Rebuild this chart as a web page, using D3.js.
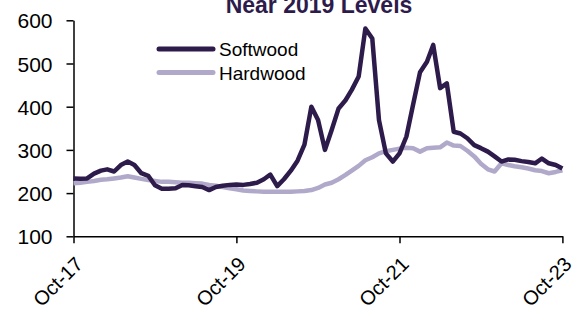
<!DOCTYPE html>
<html>
<head>
<meta charset="utf-8">
<script src="https://cdn.jsdelivr.net/npm/d3@7"></script>
<style>
  body { margin: 0; background: #fff; }
  svg { font-family: Arial, "Liberation Sans", sans-serif; display: block; }
  .axis path, .axis line { stroke: #000; stroke-width: 1.5; }
  .axis text { fill: #000; font-size: 21px; }
</style>
</head>
<body>
<svg width="579" height="316"></svg>
<script>
// monthly, Oct-17 .. Oct-23
var startMonth = new Date(2017, 9, 1);
var tickLabels = ["Oct-17", "Oct-19", "Oct-21", "Oct-23"];
var yTicks = [100, 200, 300, 400, 500, 600];

var softwood = [234, 233, 234, 245, 252, 255, 250, 265, 273, 265, 246, 240, 218, 210, 210, 211,
  219, 218, 216, 214, 207, 214, 217, 219, 220, 219, 221, 224, 232, 243, 216, 232, 252, 275,
  312, 400, 369, 300, 346, 396, 415, 439, 470, 581, 558, 369, 292, 273, 292, 331, 405, 480,
  504, 543, 443, 454, 342, 338, 327, 311, 304, 296, 285, 273, 278, 277, 274, 272, 269, 280,
  269, 265, 257];

var hardwood = [223, 224, 226, 228, 231, 232, 234, 236, 239, 236, 233, 230, 228, 226, 226, 225,
  224, 224, 223, 222, 219, 217, 214, 211, 209, 206, 205, 204, 203, 203, 203, 203, 203, 204,
  205, 207, 212, 220, 224, 232, 242, 252, 263, 276, 283, 292, 297, 300, 303, 305, 304, 296,
  304, 305, 306, 317, 310, 309, 298, 285, 268, 255, 250, 269, 265, 262, 260, 257, 253, 251,
  246, 249, 253];

var series = [
  { name: "Softwood", values: softwood, color: "#2d1b4b" },
  { name: "Hardwood", values: hardwood, color: "#b1a9ca" }
];

var svg = d3.select("svg");

var x = d3.scaleTime()
    .domain([startMonth, d3.timeMonth.offset(startMonth, 72)])
    .range([73.5, 562.4]);

var y = d3.scaleLinear()
    .domain([100, 600])
    .range([236.3, 20.3]);

// y axis
svg.append("g")
    .attr("class", "axis")
    .attr("transform", "translate(73.5,0)")
    .call(d3.axisLeft(y).tickValues(yTicks).tickSize(7).tickPadding(14).tickSizeOuter(0))
    .selectAll("text").attr("dy", "0.36em");

// x axis
var tickDates = tickLabels.map(function(d, i) { return d3.timeMonth.offset(startMonth, i * 24); });
var xAxis = svg.append("g")
    .attr("class", "axis")
    .attr("transform", "translate(0,236.3)")
    .call(d3.axisBottom(x).tickValues(tickDates).tickSize(7).tickSizeOuter(0)
      .tickFormat(function(d, i) { return tickLabels[i]; }));

xAxis.selectAll("text")
    .attr("text-anchor", "end")
    .attr("dy", null)
    .attr("y", null)
    .style("font-size", "20px")
    .attr("transform", "translate(10,29) rotate(-45)");

var line = d3.line()
    .x(function(d, i) { return x(d3.timeMonth.offset(startMonth, i)); })
    .y(function(d) { return y(d); });

// hardwood underneath, softwood on top
series.slice().reverse().forEach(function(s) {
  svg.append("path")
      .datum(s.values)
      .attr("fill", "none")
      .attr("stroke", s.color)
      .attr("stroke-width", 4.5)
      .attr("stroke-linejoin", "round")
      .attr("d", line);
});

// legend
var legend = svg.selectAll(".legend")
    .data(series)
    .enter().append("g")
    .attr("class", "legend")
    .attr("transform", function(d, i) { return "translate(159," + (49 + i * 23.5) + ")"; });

legend.append("line")
    .attr("x1", 0).attr("x2", 54)
    .attr("stroke", function(d) { return d.color; })
    .attr("stroke-width", 5)
    .attr("stroke-linecap", "round");

legend.append("text")
    .attr("x", 60)
    .attr("y", 7)
    .style("font-size", "19px")
    .attr("fill", "#000")
    .text(function(d) { return d.name; });

// title (top partly cut off, as in the source)
svg.append("text")
    .attr("x", 319)
    .attr("y", 13)
    .attr("text-anchor", "middle")
    .style("font-size", "23px")
    .style("font-weight", "bold")
    .attr("fill", "#2d1b4b")
    .text("Near 2019 Levels");
</script>
</body>
</html>
